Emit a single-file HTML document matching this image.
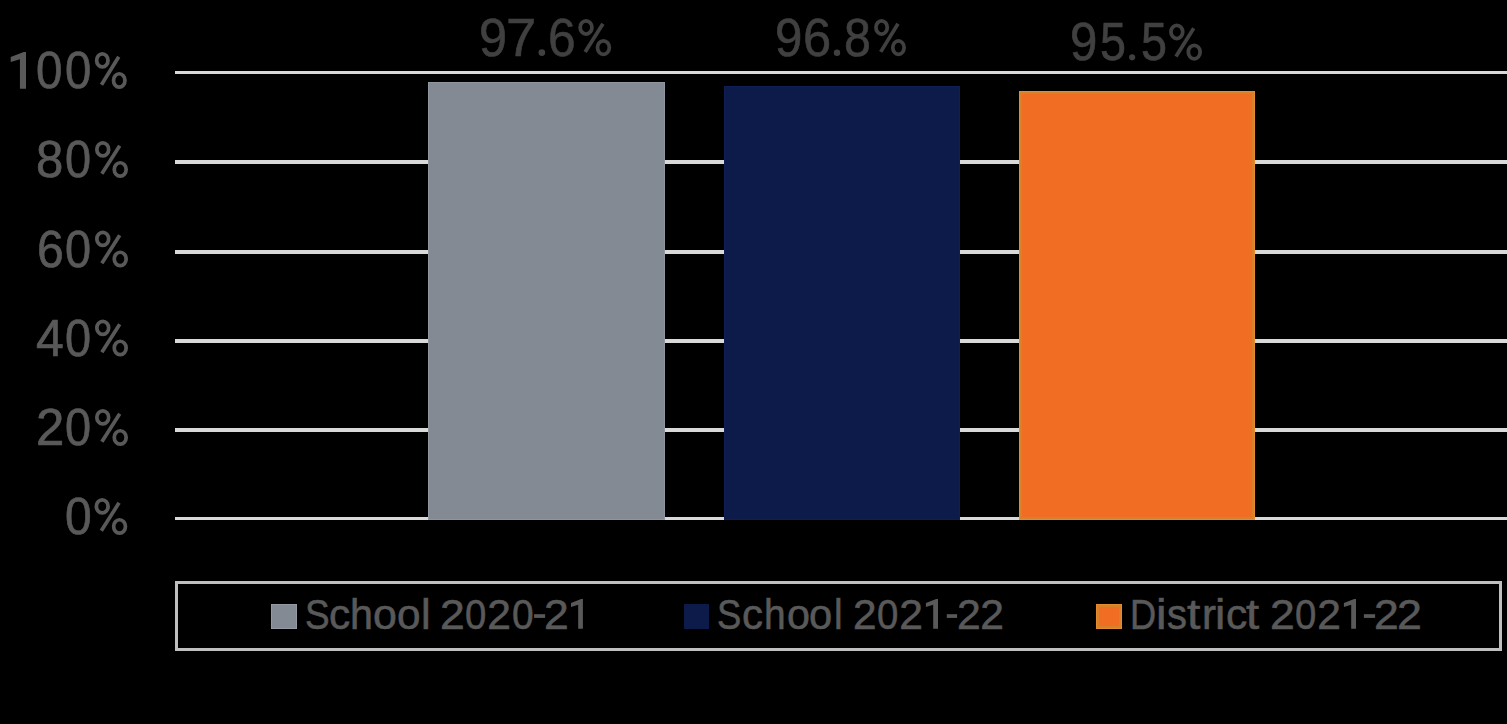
<!DOCTYPE html>
<html><head><meta charset="utf-8">
<style>
html,body{margin:0;padding:0;background:#000;}
body{width:1507px;height:724px;position:relative;overflow:hidden;font-family:"Liberation Sans",sans-serif;}
.g{position:absolute;left:175px;width:1332px;background:#d9d9d9;}
.bar{position:absolute;}
.t{position:absolute;left:0;height:60px;width:1507px;}
.t span{position:absolute;top:0;white-space:nowrap;line-height:1;transform-origin:0 0;}
.ax{color:#595959;-webkit-text-stroke:0.7px #595959;font-size:52.5px;}
.dl{color:#404040;-webkit-text-stroke:0.6px #404040;font-size:52.8px;}
.lg{color:#595959;-webkit-text-stroke:0.6px #595959;font-size:42.6px;}
.mk{position:absolute;}
.box{position:absolute;left:175px;top:581px;width:1327px;height:70px;box-sizing:border-box;border:3px solid #bfbfbf;}
</style></head><body>
<div class="g" style="top:71px;height:3px"></div>
<div class="g" style="top:160px;height:4px"></div>
<div class="g" style="top:250px;height:4px"></div>
<div class="g" style="top:339px;height:4px"></div>
<div class="g" style="top:428px;height:4px"></div>
<div class="g" style="top:517px;height:3px"></div>
<div class="bar" style="left:428px;top:82px;width:237px;height:438px;background:#838a93;box-shadow:inset 0 0 0 1px #8f96a0"></div>
<div class="bar" style="left:724px;top:86px;width:236px;height:434px;background:#0c1b4a;box-shadow:inset 0 0 0 1px #0f1e55"></div>
<div class="bar" style="left:1019px;top:91px;width:236px;height:429px;background:#f26d24;box-shadow:inset 0 0 0 1px #e58b2c,inset 0 0 0 3px #d6822d"></div>
<div class="box"></div>
<div class="mk" style="left:271px;top:604px;width:26px;height:25px;background:#838a93;box-shadow:inset 0 0 0 1px #939aa4"></div>
<div class="mk" style="left:684px;top:604px;width:25px;height:25px;background:#0c1b4a"></div>
<div class="mk" style="left:1096px;top:604px;width:26px;height:25px;background:#f26d24;box-shadow:inset 0 0 0 1px #e58b2c,inset 0 0 0 3px #d6822d"></div>
<div class="t ax" style="top:44.00px"><span style="left:36.02px;transform:scaleX(0.9049)">0</span><span style="left:65.32px;transform:scaleX(0.9010)">0</span></div>
<div class="t ax" style="top:133.00px"><span style="left:35.93px;transform:scaleX(0.9347)">8</span><span style="left:64.74px;transform:scaleX(0.8932)">0</span></div>
<div class="t ax" style="top:222.50px"><span style="left:36.84px;transform:scaleX(0.9160)">6</span><span style="left:64.74px;transform:scaleX(0.8932)">0</span></div>
<div class="t ax" style="top:311.50px"><span style="left:36.29px;transform:scaleX(0.9505)">4</span><span style="left:64.74px;transform:scaleX(0.8932)">0</span></div>
<div class="t ax" style="top:401.00px"><span style="left:35.62px;transform:scaleX(0.9697)">2</span><span style="left:64.74px;transform:scaleX(0.8932)">0</span></div>
<div class="t ax" style="top:490.00px"><span style="left:64.70px;transform:scaleX(0.9126)">0</span></div>
<div class="t dl" style="top:11.75px"><span style="left:478.95px;transform:scaleX(0.9560)">9</span><span style="left:506.22px;transform:scaleX(1.0327)">7</span><span style="left:548.35px;transform:scaleX(0.9414)">6</span></div>
<div class="t dl" style="top:11.75px"><span style="left:774.70px;transform:scaleX(0.9320)">9</span><span style="left:802.71px;transform:scaleX(0.9576)">6</span><span style="left:844.17px;transform:scaleX(0.9149)">8</span></div>
<div class="t dl" style="top:16.25px"><span style="left:1069.70px;transform:scaleX(0.9320)">9</span><span style="left:1099.65px;transform:scaleX(0.8854)">5</span><span style="left:1140.55px;transform:scaleX(0.8854)">5</span></div>
<div class="t lg" style="top:592.50px"><span style="left:304.70px;transform:scaleX(0.8673)">S</span><span style="left:328.71px;transform:scaleX(0.9947)">c</span><span style="left:350.44px;transform:scaleX(0.9676)">h</span><span style="left:373.49px;transform:scaleX(1.0072)">o</span><span style="left:396.81px;transform:scaleX(0.9928)">o</span><span style="left:420.64px;transform:scaleX(1.0222)">l</span><span style="left:440.27px;transform:scaleX(1.0450)">2</span><span style="left:464.88px;transform:scaleX(0.9000)">0</span><span style="left:487.15px;transform:scaleX(1.0000)">2</span><span style="left:511.76px;transform:scaleX(0.9143)">0</span><span style="left:544.27px;transform:scaleX(1.0450)">2</span></div>
<div class="t lg" style="top:592.50px"><span style="left:717.02px;transform:scaleX(0.8554)">S</span><span style="left:741.72px;transform:scaleX(0.9842)">c</span><span style="left:763.59px;transform:scaleX(0.9135)">h</span><span style="left:786.55px;transform:scaleX(0.9687)">o</span><span style="left:809.33px;transform:scaleX(0.9783)">o</span><span style="left:833.62px;transform:scaleX(0.9111)">l</span><span style="left:853.26px;transform:scaleX(0.9950)">2</span><span style="left:876.88px;transform:scaleX(0.9000)">0</span><span style="left:899.15px;transform:scaleX(1.0000)">2</span><span style="left:957.14px;transform:scaleX(1.0050)">2</span><span style="left:980.25px;transform:scaleX(1.0000)">2</span></div>
<div class="t lg" style="top:592.50px"><span style="left:1130.24px;transform:scaleX(0.8505)">D</span><span style="left:1156.22px;transform:scaleX(1.1111)">i</span><span style="left:1167.30px;transform:scaleX(0.9351)">s</span><span style="left:1186.72px;transform:scaleX(1.1304)">t</span><span style="left:1201.53px;transform:scaleX(0.9867)">r</span><span style="left:1215.48px;transform:scaleX(1.0889)">i</span><span style="left:1225.51px;transform:scaleX(0.9947)">c</span><span style="left:1245.92px;transform:scaleX(1.1130)">t</span><span style="left:1270.27px;transform:scaleX(1.0450)">2</span><span style="left:1294.88px;transform:scaleX(0.9000)">0</span><span style="left:1317.15px;transform:scaleX(1.0000)">2</span><span style="left:1374.27px;transform:scaleX(1.0450)">2</span><span style="left:1397.16px;transform:scaleX(1.0500)">2</span></div>
<svg style="position:absolute;left:0;top:0" width="1507" height="724"><polygon points="10.70,56.99 23.74,52.00 26.00,52.00 26.00,88.70 19.93,88.70 19.93,59.19 10.70,61.98" fill="#595959"/><polygon points="571.00,603.06 581.14,599.00 582.90,599.00 582.90,628.86 578.18,628.86 578.18,604.85 571.00,607.12" fill="#595959"/><polygon points="925.90,603.06 936.21,599.00 938.00,599.00 938.00,628.86 933.20,628.86 933.20,604.85 925.90,607.12" fill="#595959"/><polygon points="1343.90,603.06 1354.21,599.00 1356.00,599.00 1356.00,628.86 1351.20,628.86 1351.20,604.85 1343.90,607.12" fill="#595959"/><ellipse cx="102.33" cy="60.40" rx="5.67" ry="6.55" fill="none" stroke="#595959" stroke-width="3.71"/><ellipse cx="119.24" cy="80.44" rx="5.71" ry="6.70" fill="none" stroke="#595959" stroke-width="3.71"/><polygon points="103.03,85.68 120.34,57.78 117.19,55.83 99.88,83.72" fill="#595959"/><ellipse cx="102.76" cy="149.40" rx="5.91" ry="6.55" fill="none" stroke="#595959" stroke-width="3.71"/><ellipse cx="120.20" cy="169.44" rx="5.95" ry="6.70" fill="none" stroke="#595959" stroke-width="3.71"/><polygon points="103.42,174.70 121.27,146.81 118.15,144.81 100.30,172.70" fill="#595959"/><ellipse cx="102.76" cy="238.90" rx="5.91" ry="6.55" fill="none" stroke="#595959" stroke-width="3.71"/><ellipse cx="120.20" cy="258.94" rx="5.95" ry="6.70" fill="none" stroke="#595959" stroke-width="3.71"/><polygon points="103.42,264.20 121.27,236.31 118.15,234.31 100.30,262.20" fill="#595959"/><ellipse cx="102.76" cy="327.90" rx="5.91" ry="6.55" fill="none" stroke="#595959" stroke-width="3.71"/><ellipse cx="120.20" cy="347.94" rx="5.95" ry="6.70" fill="none" stroke="#595959" stroke-width="3.71"/><polygon points="103.42,353.20 121.27,325.31 118.15,323.31 100.30,351.20" fill="#595959"/><ellipse cx="102.76" cy="417.40" rx="5.91" ry="6.55" fill="none" stroke="#595959" stroke-width="3.71"/><ellipse cx="120.20" cy="437.44" rx="5.95" ry="6.70" fill="none" stroke="#595959" stroke-width="3.71"/><polygon points="103.42,442.70 121.27,414.81 118.15,412.81 100.30,440.70" fill="#595959"/><ellipse cx="102.22" cy="506.40" rx="5.86" ry="6.55" fill="none" stroke="#595959" stroke-width="3.71"/><ellipse cx="119.55" cy="526.44" rx="5.90" ry="6.70" fill="none" stroke="#595959" stroke-width="3.71"/><polygon points="102.88,531.69 120.63,503.80 117.50,501.81 99.76,529.70" fill="#595959"/><circle cx="541.85" cy="52.55" r="3.35" fill="#404040"/><ellipse cx="586.04" cy="27.45" rx="5.88" ry="6.59" fill="none" stroke="#404040" stroke-width="3.73"/><ellipse cx="603.42" cy="47.60" rx="5.91" ry="6.73" fill="none" stroke="#404040" stroke-width="3.73"/><polygon points="586.72,52.88 604.51,24.83 601.36,22.84 583.57,50.88" fill="#404040"/><circle cx="837.00" cy="52.70" r="3.20" fill="#404040"/><ellipse cx="881.60" cy="27.45" rx="5.64" ry="6.59" fill="none" stroke="#404040" stroke-width="3.73"/><ellipse cx="898.46" cy="47.60" rx="5.68" ry="6.73" fill="none" stroke="#404040" stroke-width="3.73"/><polygon points="882.32,52.85 899.58,24.81 896.40,22.86 879.15,50.90" fill="#404040"/><circle cx="1132.15" cy="57.35" r="3.05" fill="#404040"/><ellipse cx="1176.84" cy="31.95" rx="5.88" ry="6.59" fill="none" stroke="#404040" stroke-width="3.73"/><ellipse cx="1194.22" cy="52.10" rx="5.91" ry="6.73" fill="none" stroke="#404040" stroke-width="3.73"/><polygon points="1177.52,57.38 1195.31,29.33 1192.16,27.34 1174.37,55.38" fill="#404040"/><rect x="534.10" y="614.20" width="11.00" height="3.70" fill="#595959"/><rect x="946.80" y="614.20" width="10.30" height="3.70" fill="#595959"/><rect x="1363.90" y="614.20" width="11.20" height="3.70" fill="#595959"/></svg>
</body></html>
